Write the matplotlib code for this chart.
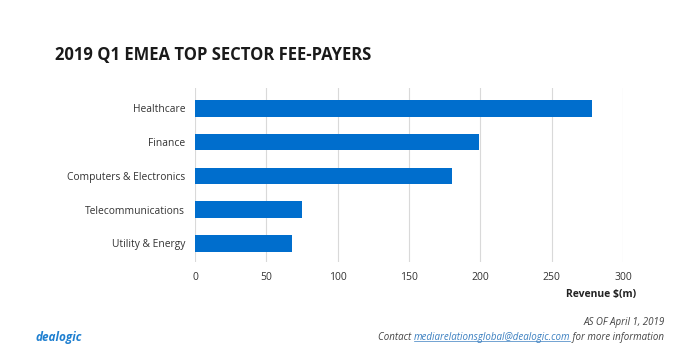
import matplotlib
matplotlib.use("Agg")
import matplotlib.pyplot as plt
from matplotlib.lines import Line2D

# data
sectors = ["Healthcare", "Finance", "Computers & Electronics", "Telecommunications", "Utility & Energy"]
revenue = [278, 199, 180, 75, 68]
xticks = [0, 50, 100, 150, 200, 250, 300]

plt.rcParams['font.family'] = ['Open Sans', 'DejaVu Sans']

fig = plt.figure(figsize=(7, 3.64), dpi=100)
ax = fig.add_axes([0.2786, 0.280, 0.6114, 0.478])

ypos = list(range(len(sectors)))
ax.barh(ypos, revenue, height=0.49, color="#006ECD", zorder=3)
ax.set_yticks(ypos)
ax.set_yticklabels(sectors, fontsize=7.4, color="#333333")
ax.set_ylim(4.55, -0.6)
ax.set_xlim(0, 300)
ax.set_xticks(xticks)
ax.set_xticklabels([str(t) for t in xticks], fontsize=7.5, color="#333333")
ax.grid(axis="x", color="#D9D9D9", linewidth=0.8, zorder=0)
for s in ax.spines.values():
    s.set_visible(False)
ax.tick_params(length=0, pad=7)
ax.tick_params(axis="y", pad=7)

fig.text(0.909, 0.190, "Revenue $(m)", fontsize=7.5, fontweight="bold",
         ha="right", va="center", color="#222222")

fig.text(0.079, 0.849, "2019 Q1 EMEA TOP SECTOR FEE-PAYERS", fontsize=12,
         fontweight="bold", ha="left", va="center", color="#1a1a1a")

# footer
fig.text(0.050, 0.073, "dealogic", fontsize=8.5, fontstyle="italic", fontweight="bold",
         color="#1E7FD0", ha="left", va="center")
fig.text(0.949, 0.115, "AS OF April 1, 2019", fontsize=7, fontstyle="italic",
         color="#444444", ha="right", va="center")

fig.canvas.draw()
r = fig.canvas.get_renderer()
yline = 0.073
t3 = fig.text(0.949, yline, " for more information", fontsize=7, fontstyle="italic",
              color="#444444", ha="right", va="center")
bb3 = t3.get_window_extent(r).transformed(fig.transFigure.inverted())
t2 = fig.text(bb3.x0, yline, "mediarelationsglobal@dealogic.com", fontsize=7,
              fontstyle="italic", color="#3A7FC0", ha="right", va="center")
bb2 = t2.get_window_extent(r).transformed(fig.transFigure.inverted())
fig.add_artist(Line2D([bb2.x0, bb2.x1], [bb2.y0 + 0.004, bb2.y0 + 0.004],
                      transform=fig.transFigure, color="#3A7FC0", linewidth=0.5))
fig.text(bb2.x0, yline, "Contact ", fontsize=7, fontstyle="italic",
         color="#444444", ha="right", va="center")

fig.savefig("out.png", dpi=100)
